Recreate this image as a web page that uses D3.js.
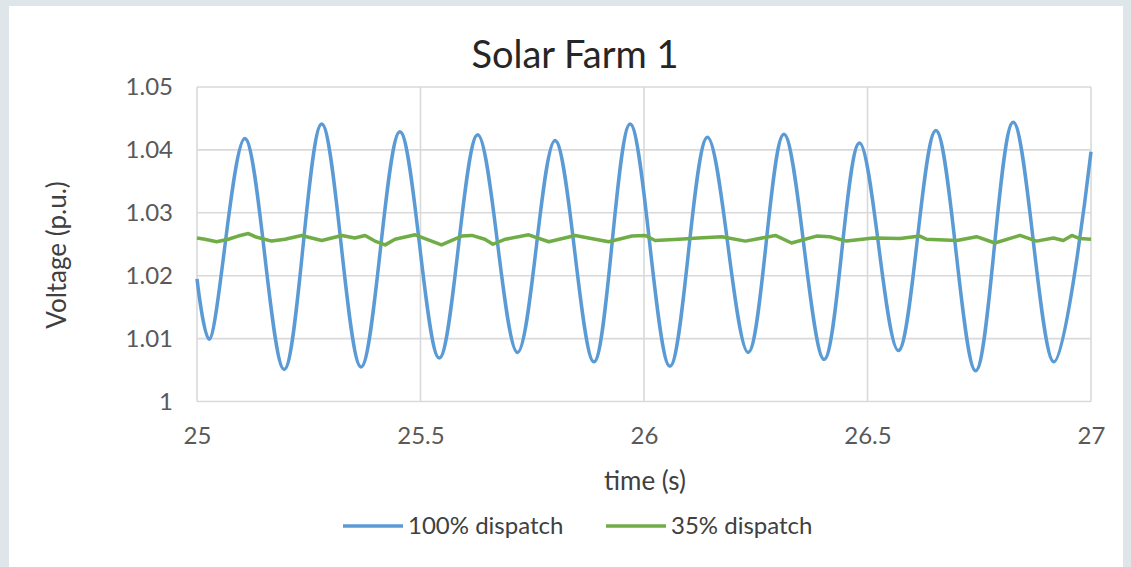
<!DOCTYPE html>
<html>
<head>
<meta charset="utf-8">
<script src="https://cdn.jsdelivr.net/npm/d3@7"></script>
<style>
  html, body { margin: 0; padding: 0; background: #dfe6e9; }
  svg { display: block; }
  text { font-family: Lato, "Open Sans", sans-serif; }
</style>
</head>
<body>
<svg id="chart" width="1131" height="567"></svg>
<script>
// ---- data ----
const title = "Solar Farm 1";
const xLabel = "time (s)";
const yLabel = "Voltage (p.u.)";
const seriesNames = ["100% dispatch", "35% dispatch"];
const xTicks = [25, 25.5, 26, 26.5, 27];
const yTicks = [1, 1.01, 1.02, 1.03, 1.04, 1.05];

// 100% dispatch: start, alternating troughs/peaks, end
const time100 = [25.000, 25.027, 25.107, 25.195, 25.279, 25.367, 25.454, 25.542, 25.628, 25.717,
                 25.801, 25.888, 25.969, 26.058, 26.142, 26.233, 26.313, 26.403, 26.482, 26.569,
                 26.653, 26.742, 26.826, 26.917, 27.000];
const volt100 = [1.0195, 1.0099, 1.0418, 1.0051, 1.0441, 1.0055, 1.0429, 1.0069, 1.0424, 1.0078,
                 1.0415, 1.0063, 1.0441, 1.0056, 1.0420, 1.0078, 1.0425, 1.0067, 1.0411, 1.0081,
                 1.0431, 1.0049, 1.0444, 1.0063, 1.0397];

// 35% dispatch
const time35 = [25.000, 25.018, 25.044, 25.070, 25.092, 25.115, 25.130, 25.167, 25.197, 25.234,
                25.279, 25.324, 25.353, 25.376, 25.398, 25.421, 25.443, 25.488, 25.547, 25.592,
                25.615, 25.644, 25.662, 25.690, 25.742, 25.787, 25.846, 25.921, 25.973, 26.003,
                26.025, 26.078, 26.122, 26.174, 26.227, 26.294, 26.330, 26.386, 26.416, 26.453,
                26.513, 26.573, 26.617, 26.632, 26.700, 26.744, 26.785, 26.841, 26.878, 26.916,
                26.938, 26.957, 26.975, 27.000];
const volt35 = [1.0260, 1.0258, 1.0254, 1.0258, 1.0263, 1.0267, 1.0262, 1.0255, 1.0258, 1.0264,
                1.0256, 1.0264, 1.0260, 1.0264, 1.0255, 1.0249, 1.0258, 1.0265, 1.0249, 1.0263,
                1.0264, 1.0258, 1.0250, 1.0258, 1.0265, 1.0254, 1.0264, 1.0254, 1.0263, 1.0264,
                1.0256, 1.0258, 1.0260, 1.0262, 1.0255, 1.0264, 1.0252, 1.0263, 1.0262, 1.0255,
                1.0260, 1.0259, 1.0263, 1.0258, 1.0256, 1.0262, 1.0252, 1.0264, 1.0255, 1.0260,
                1.0256, 1.0264, 1.0259, 1.0258];

const colors = ["#5b9bd5", "#70ad47"];

// ---- drawing ----
const svg = d3.select("#chart");
svg.append("rect").attr("x", 9).attr("y", 6).attr("width", 1114).attr("height", 567)
   .attr("fill", "#ffffff");

const plot = {left: 197, right: 1091, top: 87, bottom: 401.5};
const x = d3.scaleLinear().domain([25, 27]).range([plot.left, plot.right]);
const y = d3.scaleLinear().domain([1, 1.05]).range([plot.bottom, plot.top]);

// gridlines
const grid = svg.append("g");
grid.selectAll("line.h").data(yTicks).join("line")
  .attr("x1", plot.left).attr("x2", plot.right)
  .attr("y1", d => y(d)).attr("y2", d => y(d))
  .attr("stroke", "#d9d9d9").attr("stroke-width", 1.6);
grid.selectAll("line.v").data(xTicks).join("line")
  .attr("y1", plot.top).attr("y2", plot.bottom)
  .attr("x1", d => x(d)).attr("x2", d => x(d))
  .attr("stroke", "#d9d9d9").attr("stroke-width", 1.6);

// axes (labels only)
const xAxis = svg.append("g").attr("transform", `translate(0,${plot.bottom})`)
  .call(d3.axisBottom(x).tickValues(xTicks).tickSize(0).tickPadding(25).tickFormat(d3.format("")));
const yAxis = svg.append("g").attr("transform", `translate(${plot.left},0)`)
  .call(d3.axisLeft(y).tickValues(yTicks).tickSize(0).tickPadding(24).tickFormat(d3.format("")));
[xAxis, yAxis].forEach(a => {
  a.select(".domain").remove();
  a.selectAll("text").attr("font-size", 24).attr("fill", "#595959")
    .style("font-family", "Lato, 'Open Sans', sans-serif");
});

// lines
const d100 = time100.map((t, i) => [t, volt100[i]]);
const d35 = time35.map((t, i) => [t, volt35[i]]);
svg.append("path").datum(d100)
  .attr("d", d3.line().x(d => x(d[0])).y(d => y(d[1])).curve(d3.curveCatmullRom.alpha(0.5)))
  .attr("fill", "none").attr("stroke", colors[0]).attr("stroke-width", 3.5)
  .attr("stroke-linejoin", "round");
svg.append("path").datum(d35)
  .attr("d", d3.line().x(d => x(d[0])).y(d => y(d[1])))
  .attr("fill", "none").attr("stroke", colors[1]).attr("stroke-width", 3.5)
  .attr("stroke-linejoin", "round");

// title
svg.append("text").attr("x", 575).attr("y", 68).attr("text-anchor", "middle")
  .attr("font-size", 38).attr("fill", "#262626").text(title);

// axis titles
svg.append("text").attr("x", 645).attr("y", 490).attr("text-anchor", "middle")
  .attr("font-size", 26).attr("fill", "#404040").text(xLabel);
svg.append("text").attr("transform", "translate(66,255) rotate(-90)").attr("text-anchor", "middle")
  .attr("font-size", 26).attr("fill", "#404040").text(yLabel);

// legend
const legend = [{x: 343, name: seriesNames[0], c: colors[0]}, {x: 606, name: seriesNames[1], c: colors[1]}];
const lg = svg.append("g");
legend.forEach(l => {
  lg.append("line").attr("x1", l.x).attr("x2", l.x + 60).attr("y1", 526).attr("y2", 526)
    .attr("stroke", l.c).attr("stroke-width", 3.5);
  lg.append("text").attr("x", l.x + 65).attr("y", 534).attr("font-size", 24)
    .attr("fill", "#404040").text(l.name);
});
</script>
</body>
</html>
